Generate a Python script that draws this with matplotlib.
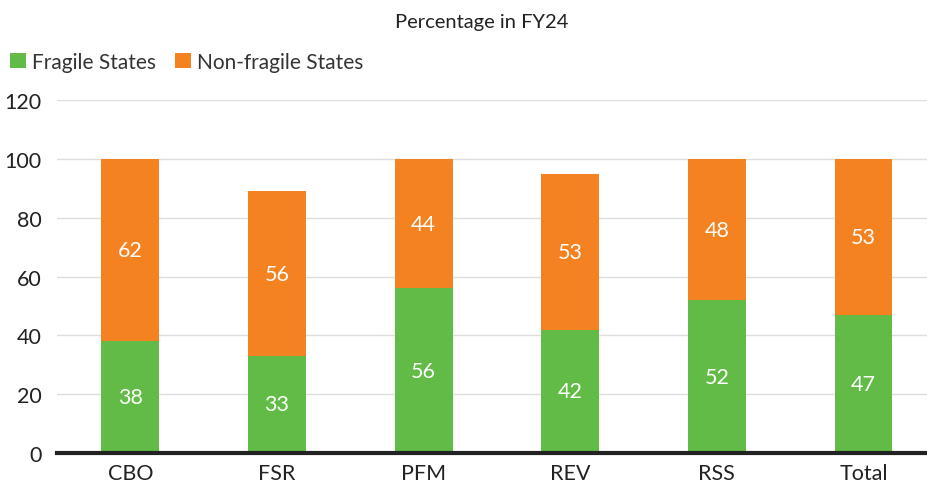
import matplotlib.pyplot as plt
import numpy as np

plt.rcParams['font.family'] = ['Lato', 'DejaVu Sans']

categories = ['CBO', 'FSR', 'PFM', 'REV', 'RSS', 'Total']
fragile = [38, 33, 56, 42, 52, 47]
non_fragile = [62, 56, 44, 53, 48, 53]

green = '#62bb46'
orange = '#f58220'

fig = plt.figure(figsize=(9.27, 4.89), dpi=100)
ax = fig.add_axes([0.0615, 0.0716, 0.938, 0.7214])

x = np.arange(len(categories))
w = 0.395
b1 = ax.bar(x, fragile, w, color=green, label='Fragile States', zorder=3)
b2 = ax.bar(x, non_fragile, w, bottom=fragile, color=orange, label='Non-fragile States', zorder=3)

# 値ラベル
for i in range(len(categories)):
    ax.text(x[i], fragile[i] / 2, str(fragile[i]), ha='center', va='center',
            color='white', fontsize=15.5, zorder=4)
    ax.text(x[i], fragile[i] + non_fragile[i] / 2, str(non_fragile[i]), ha='center',
            va='center', color='white', fontsize=15.5, zorder=4)

ax.set_ylim(0, 120)
ax.set_yticks([0, 20, 40, 60, 80, 100, 120])
ax.set_xlim(-0.5, 5.43)
ax.set_xticks(x)
ax.set_xticklabels(categories)
ax.tick_params(axis='both', length=0, labelsize=15.5, colors='#222222')
ax.tick_params(axis='x', pad=7)
ax.tick_params(axis='y', pad=11)
ax.grid(axis='y', color='#dddddd', linewidth=1, zorder=0)
for s in ['top', 'right', 'left']:
    ax.spines[s].set_visible(False)
ax.spines['bottom'].set_linewidth(3)
ax.spines['bottom'].set_color('#222222')
ax.spines['bottom'].set_zorder(5)

fig.text(0.52, 0.955, 'Percentage in FY24', ha='center', va='center', fontsize=14.5, color='#222222')
fig.legend(handles=[b1, b2], loc='center left', bbox_to_anchor=(-0.009, 0.872), ncol=2,
           frameon=False, fontsize=15, handlelength=0.75, handleheight=0.75,
           handletextpad=0.3, columnspacing=0.9, labelcolor='#333333')

plt.savefig('out.png', dpi=100)
